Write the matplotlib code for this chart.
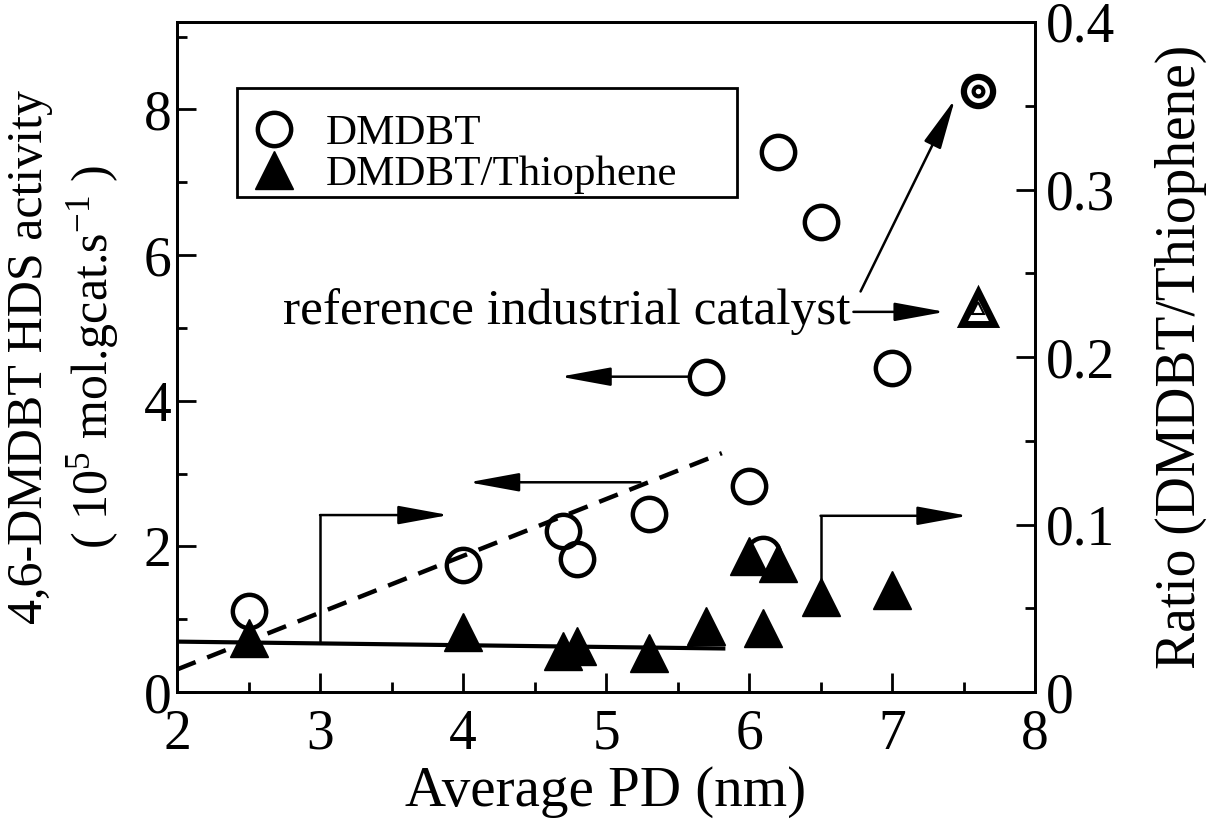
import matplotlib
matplotlib.use("Agg")
import matplotlib.pyplot as plt
from matplotlib.patches import Rectangle
from matplotlib.ticker import MultipleLocator, FixedLocator, FixedFormatter

plt.rcParams['font.family'] = ['Liberation Serif', 'DejaVu Serif']
plt.rcParams['mathtext.fontset'] = 'custom'
plt.rcParams['mathtext.rm'] = 'Liberation Serif'
plt.rcParams['mathtext.it'] = 'Liberation Serif:italic'

# ---- data ----
pd_nm = [2.5, 4.0, 4.7, 4.8, 5.3, 5.7, 6.0, 6.1, 6.2, 6.5, 7.0]
dmdbt_activity = [1.11, 1.74, 2.21, 1.83, 2.44, 4.33, 2.83, 1.89, 7.41, 6.46, 4.45]
ratio = [0.0325, 0.0359, 0.0244, 0.0274, 0.0234, 0.0393, 0.081, 0.0383, 0.077, 0.057, 0.061]

ref_pd = [7.6]
ref_activity = [8.25]
ref_ratio = [0.229]

dash_fit_x = [2.0, 5.81]
dash_fit_y = [0.31, 3.28]
solid_fit_x = [2.0, 5.82]
solid_fit_y = [0.0301, 0.0260]

xticks = [2, 3, 4, 5, 6, 7, 8]
yticks_left = [0, 2, 4, 6, 8]
yticks_right = [0, 0.1, 0.2, 0.3, 0.4]
yticklabels_right = ['0', '0.1', '0.2', '0.3', '0.4']

fig = plt.figure(figsize=(12.1, 8.27), dpi=100)
ax = fig.add_axes([0.1463, 0.1632, 0.7091, 0.8102])
ax2 = ax.twinx()

ax.set_xlim(2, 8)
ax.set_ylim(0, 9.2)
ax2.set_ylim(0, 0.4)

# lines
ax.plot(dash_fit_x, dash_fit_y, color='black', lw=3.2, ls=(0, (4.5, 2.8)), zorder=2)
ax2.plot(solid_fit_x, solid_fit_y, color='black', lw=3.0, zorder=2)

# markers
h1, = ax.plot(pd_nm, dmdbt_activity, ls='none', marker='o', ms=24, mfc='none',
              mec='black', mew=3.2, zorder=3, label='DMDBT')
h2, = ax2.plot(pd_nm, ratio, ls='none', marker='^', ms=27, mfc='black',
               mec='black', mew=1, zorder=3, label='DMDBT/Thiophene')
# reference catalyst
ax.plot(ref_pd, ref_activity, ls='none', marker='o', ms=21, mfc='white',
        mec='black', mew=4.5, zorder=4)
ax.plot(ref_pd, ref_activity, ls='none', marker='o', ms=7, mfc='none',
        mec='black', mew=3, zorder=5)
ax2.plot(ref_pd, ref_ratio, ls='none', marker='^', ms=23, mfc='white',
         mec='black', mew=5, zorder=4)
ax2.plot(ref_pd, ref_ratio, ls='none', marker='^', ms=9, mfc='none',
         mec='black', mew=1.5, zorder=5)

# axis styling
for a in (ax, ax2):
    for s in a.spines.values():
        s.set_linewidth(2.0)
ax.xaxis.set_major_locator(FixedLocator(xticks))
ax.xaxis.set_minor_locator(MultipleLocator(0.5))
ax.yaxis.set_major_locator(FixedLocator(yticks_left))
ax.yaxis.set_minor_locator(MultipleLocator(1))
ax2.yaxis.set_major_locator(FixedLocator(yticks_right))
ax2.yaxis.set_major_formatter(FixedFormatter(yticklabels_right))
ax2.yaxis.set_minor_locator(MultipleLocator(0.05))

ax.tick_params(axis='x', which='both', direction='in', top=False, labelsize=40, pad=12)
ax.tick_params(axis='y', which='both', direction='in', right=False, labelsize=40, pad=4)
ax2.tick_params(axis='y', which='both', direction='in', left=False, labelsize=40, pad=8)
for a in (ax, ax2):
    a.tick_params(which='major', length=14, width=2)
    a.tick_params(which='minor', length=7, width=2)

ax.set_xlabel('Average PD (nm)', fontsize=41, labelpad=4)
ax.set_ylabel('4,6-DMDBT HDS activity\n( 10$^\\mathregular{5}$ mol.gcat.s$^\\mathregular{-1}$ )',
              fontsize=36, linespacing=1.3, labelpad=16)
ax2.set_ylabel('Ratio (DMDBT/Thiophene)', fontsize=40, labelpad=28)

# legend
leg = ax.legend(handles=[h1, h2], loc='upper left', bbox_to_anchor=(0.07, 0.879),
                frameon=False, fontsize=31, borderpad=0.25, handlelength=1.2,
                handletextpad=0.6, labelspacing=0.05, borderaxespad=0)
ax.add_patch(Rectangle((0.07, 0.739), 0.583, 0.1625, transform=ax.transAxes,
                       fill=False, lw=2, ec='black', zorder=6))

# annotations
ap = dict(arrowstyle='-|>,head_length=1.2,head_width=0.22', color='black',
          lw=1.8, mutation_scale=26, shrinkA=0, shrinkB=0)
ax.annotate('', xy=(4.68, 4.33), xytext=(5.58, 4.33), arrowprops=ap)
ax.annotate('', xy=(4.04, 2.88), xytext=(5.24, 2.88), arrowprops=ap)
ax.plot([3.0, 3.0], [0.69, 2.43], color='black', lw=1.8)
ax.annotate('', xy=(3.90, 2.43), xytext=(3.0, 2.43), arrowprops=ap)
ax.plot([6.5, 6.5], [1.52, 2.42], color='black', lw=1.8)
ax.annotate('', xy=(7.53, 2.42), xytext=(6.5, 2.42), arrowprops=ap)

ax.text(6.71, 5.22, 'reference industrial catalyst', ha='right', va='center', fontsize=37)
ax.annotate('', xy=(7.37, 5.22), xytext=(6.73, 5.22), arrowprops=ap)
ax.annotate('', xy=(7.44, 8.14), xytext=(6.78, 5.50), arrowprops=ap)

fig.savefig('out.png', dpi=100)
